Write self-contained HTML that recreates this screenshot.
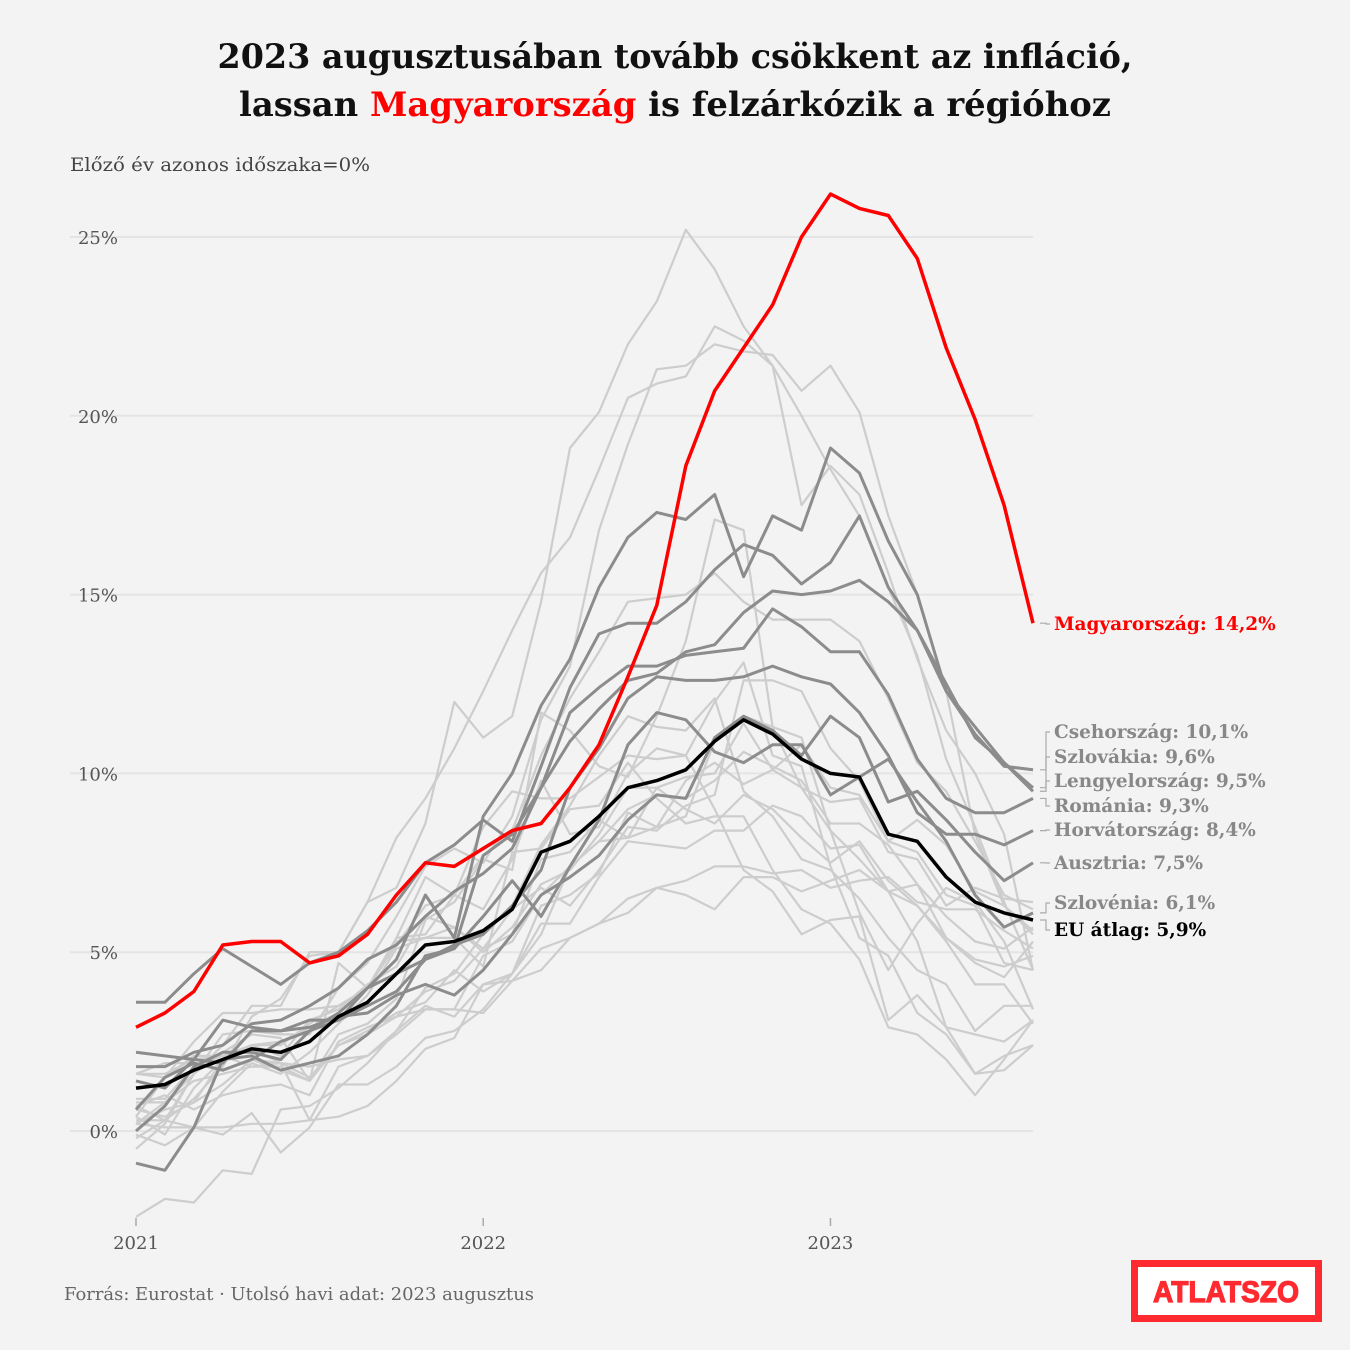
<!DOCTYPE html>
<html><head><meta charset="utf-8"><style>
html,body{margin:0;padding:0;background:#f3f3f3;}
svg{display:block;font-family:"DejaVu Serif","Liberation Serif",serif;}
</style></head><body>
<svg id="c" width="1350" height="1350" viewBox="0 0 1350 1350">
<rect width="1350" height="1350" fill="#f3f3f3"/>
<text x="675" y="68" text-anchor="middle" font-size="34" font-weight="bold" fill="#111" textLength="915" lengthAdjust="spacingAndGlyphs">2023 augusztusában tovább csökkent az infláció,</text>
<text x="675" y="116" text-anchor="middle" font-size="34" font-weight="bold" fill="#111" textLength="872" lengthAdjust="spacingAndGlyphs">lassan <tspan fill="#ff0000">Magyarország</tspan> is felzárkózik a régióhoz</text>
<text x="70" y="171" font-size="19" fill="#444" textLength="300" lengthAdjust="spacingAndGlyphs">Előző év azonos időszaka=0%</text>
<g id="grid"></g><g id="lines"></g><g id="labels"></g>
<text x="64" y="1300" font-size="18" fill="#666" textLength="470" lengthAdjust="spacingAndGlyphs">Forrás: Eurostat · Utolsó havi adat: 2023 augusztus</text>
<g>
<rect x="1134.5" y="1263.5" width="184" height="55" fill="#ffffff" stroke="#ff2a30" stroke-width="7"/>
<text x="1226" y="1302" text-anchor="middle" font-family="'Liberation Sans',sans-serif" font-weight="900" font-size="30" fill="#ff2a30" stroke="#ff2a30" stroke-width="1.2" textLength="146" lengthAdjust="spacingAndGlyphs">ATLATSZO</text>
</g>
</svg>
<script>
const yTicks=[0,5,10,15,20,25];
const yearLabels=["2021","2022","2023"];
const hungary=[2.9,3.3,3.9,5.2,5.3,5.3,4.7,4.9,5.5,6.6,7.5,7.4,7.9,8.4,8.6,9.6,10.8,12.7,14.7,18.6,20.7,21.9,23.1,25.0,26.2,25.8,25.6,24.4,21.9,19.9,17.5,14.2];
const euAvg=[1.2,1.3,1.7,2.0,2.3,2.2,2.5,3.2,3.6,4.4,5.2,5.3,5.6,6.2,7.8,8.1,8.8,9.6,9.8,10.1,10.9,11.5,11.1,10.4,10.0,9.9,8.3,8.1,7.1,6.4,6.1,5.9];
const czech=[2.2,2.1,2.0,3.1,2.9,2.8,3.1,3.1,4.0,4.8,6.6,5.4,8.8,10.0,11.9,13.2,15.2,16.6,17.3,17.1,17.8,15.5,17.2,16.8,19.1,18.4,16.5,15.0,12.3,11.1,10.2,10.1];
const slovakia=[0.6,1.5,1.9,1.7,2.0,2.5,2.8,3.3,4.0,4.4,4.8,5.1,7.7,8.3,9.6,10.9,11.8,12.6,12.8,13.4,13.6,14.5,15.1,15.0,15.1,15.4,14.8,14.0,12.3,11.3,10.3,9.6];
const poland=[3.6,3.6,4.4,5.1,4.6,4.1,4.7,5.0,5.6,6.4,7.5,8.0,8.7,8.1,10.2,12.4,13.9,14.2,14.2,14.8,15.7,16.4,16.1,15.3,15.9,17.2,15.2,14.0,12.5,11.0,10.3,9.5];
const romania=[1.8,1.8,2.2,2.4,3.0,3.1,3.5,4.0,4.8,5.2,6.0,6.7,7.2,7.9,9.6,11.7,12.4,13.0,13.0,13.3,13.4,13.5,14.6,14.1,13.4,13.4,12.2,10.4,9.3,8.9,8.9,9.3];
const croatia=[0.0,0.7,1.8,2.2,2.2,2.0,2.8,3.1,3.5,3.9,4.8,5.2,5.5,6.3,7.3,9.6,10.7,12.1,12.7,12.6,12.6,12.7,13.0,12.7,12.5,11.7,10.5,8.9,8.3,8.3,8.0,8.4];
const austria=[1.4,1.2,2.0,1.9,2.8,2.8,2.9,3.2,3.3,3.8,4.1,3.8,4.5,5.5,6.6,7.1,7.7,8.7,9.4,9.3,11.0,11.6,11.2,10.5,11.6,11.0,9.2,9.5,8.7,7.8,7.0,7.5];
const slovenia=[-0.9,-1.1,0.1,2.0,2.1,1.7,1.9,2.1,2.7,3.5,4.9,5.1,6.0,7.0,6.0,7.4,8.7,10.8,11.7,11.5,10.6,10.3,10.8,10.8,9.4,9.9,10.4,9.2,8.1,6.6,5.7,6.1];
const estonia=[-0.2,0.3,0.9,1.8,3.2,3.7,4.9,5.0,6.4,6.8,8.6,12.0,11.0,11.6,14.8,19.1,20.1,22.0,23.2,25.2,24.1,22.5,21.4,17.5,18.6,17.8,15.6,13.2,11.2,10.0,8.3,4.5];
const lithuania=[0.2,0.8,1.6,2.4,3.5,3.5,5.0,5.0,6.4,8.2,9.3,10.7,12.3,14.0,15.6,16.6,18.5,20.5,20.9,21.1,22.5,22.1,21.4,20.0,18.5,17.2,15.2,13.3,10.4,8.5,6.4,4.5];
const latvia=[-0.5,0.2,1.6,2.7,2.8,2.7,2.7,4.0,4.7,6.0,7.4,7.9,7.5,8.8,11.5,13.0,16.8,19.2,21.3,21.4,22.0,21.8,21.7,20.7,21.4,20.1,17.2,15.0,12.3,8.3,6.3,5.6];
const greece=[-2.4,-1.9,-2.0,-1.1,-1.2,0.6,0.7,1.2,1.9,2.8,4.0,4.4,5.5,6.3,8.0,9.1,10.5,11.6,11.3,11.2,12.1,9.5,8.8,7.6,7.3,6.5,5.4,4.5,4.1,2.8,3.5,3.5];
const bulgaria=[0.2,0.6,0.8,2.0,2.4,2.4,3.0,3.5,4.0,5.2,6.3,6.6,7.7,8.4,10.5,12.1,13.4,14.8,14.9,15.0,15.6,14.8,14.3,14.3,14.3,13.7,12.1,10.3,9.5,8.1,6.6,6.2];
const belgium=[0.7,0.3,1.6,2.2,2.7,2.6,1.4,4.7,4.0,5.4,7.1,6.6,8.5,9.5,9.3,9.3,9.9,10.5,10.4,10.5,12.0,13.1,10.5,10.2,7.4,5.4,4.9,3.3,2.7,1.6,1.7,2.4];
const netherlands=[1.6,1.9,1.9,1.7,2.0,1.7,1.4,2.7,3.0,3.7,5.9,6.4,7.6,7.3,11.7,11.2,10.2,9.9,11.6,13.7,17.1,16.8,11.3,11.0,8.4,6.1,4.5,5.8,6.8,6.4,5.3,3.4];
const germany=[1.6,1.6,2.0,2.1,2.4,2.1,3.1,3.4,4.1,4.6,6.0,5.7,5.1,5.5,7.6,7.8,8.7,8.2,8.5,8.8,10.9,11.6,11.3,9.6,9.2,9.3,7.8,7.6,6.3,6.8,6.5,6.4];
const france=[0.8,0.8,1.4,1.6,1.8,1.9,1.5,2.4,2.7,3.2,3.4,3.4,3.3,4.2,5.1,5.4,5.8,6.5,6.8,6.6,6.2,7.1,7.1,6.7,7.0,7.3,6.7,6.9,6.0,5.3,5.1,5.7];
const italy=[0.7,1.0,0.6,1.0,1.2,1.3,1.0,2.5,2.9,3.2,3.9,4.2,5.1,6.2,6.8,6.3,7.3,8.5,8.4,9.1,9.4,12.6,12.6,12.3,10.7,9.8,8.1,8.7,8.0,6.7,6.3,5.5];
const spain=[0.4,-0.1,1.2,2.0,2.4,2.5,2.9,3.3,4.0,5.4,5.5,6.6,6.2,7.6,9.8,8.3,8.5,10.0,10.7,10.5,9.0,7.3,6.7,5.5,5.9,6.0,3.1,3.8,2.9,1.6,2.1,2.4];
const portugal=[0.3,0.3,0.1,-0.1,0.5,-0.6,0.1,1.3,1.3,1.8,2.6,2.8,3.4,4.4,5.5,7.4,8.1,9.0,9.4,9.3,9.8,10.6,10.2,9.8,8.6,8.6,8.0,6.9,5.4,4.7,4.3,5.3];
const ireland=[-0.1,-0.4,0.1,1.1,1.9,1.6,2.2,3.0,3.8,5.1,5.4,5.7,5.0,5.7,6.9,7.3,8.3,9.6,9.6,9.0,8.6,9.4,9.0,8.2,7.5,8.1,7.0,6.3,5.4,4.8,4.6,4.9];
const finland=[0.9,0.9,1.8,2.1,2.3,1.9,1.8,2.0,2.1,2.8,3.5,3.2,4.1,4.4,5.8,5.8,7.1,8.1,8.0,7.9,8.4,8.4,9.1,8.8,7.9,8.0,6.7,6.3,5.3,4.1,4.1,3.0];
const malta=[0.2,0.1,0.1,0.1,0.2,0.2,0.3,0.4,0.7,1.4,2.3,2.6,4.1,4.2,4.5,5.4,5.8,6.1,6.8,7.0,7.4,7.4,7.2,7.3,6.8,7.0,7.1,6.4,6.2,6.2,5.6,5.1];
const luxembourg=[0.4,1.5,2.5,3.3,3.3,3.4,3.4,3.5,4.0,5.3,5.4,5.4,4.6,7.8,7.9,9.0,9.1,10.3,9.3,8.6,8.8,8.8,7.3,6.2,5.8,4.8,2.9,2.7,2.0,1.0,2.0,3.1];
const sweden=[1.6,1.5,2.1,2.1,1.8,1.8,1.4,2.4,2.8,3.3,3.6,4.5,3.9,4.4,6.3,6.6,7.2,8.9,8.5,9.8,10.3,9.7,10.1,10.8,9.6,9.4,8.1,7.8,6.6,6.3,4.7,4.5];
const denmark=[0.6,0.4,0.8,1.3,2.0,1.9,0.3,1.8,2.1,2.7,3.4,3.4,4.9,5.3,6.6,7.4,8.1,8.2,9.6,9.9,10.0,11.4,10.1,9.6,8.4,7.6,6.7,5.3,2.9,2.7,2.5,3.1];
const lightSeries=[estonia,lithuania,latvia,greece,bulgaria,belgium,netherlands,germany,france,italy,spain,portugal,ireland,finland,malta,luxembourg,sweden,denmark];
const darkSeries=[czech,slovakia,poland,romania,croatia,austria,slovenia];
const darkNames=["Csehország: 10,1%","Szlovákia: 9,6%","Lengyelország: 9,5%","Románia: 9,3%","Horvátország: 8,4%","Ausztria: 7,5%","Szlovénia: 6,1%"];

const NS="http://www.w3.org/2000/svg";
const x=i=>136+i*(1033-136)/31;
const y=v=>1131-v*(1131-237)/25;
function mk(t,a,p){const e=document.createElementNS(NS,t);for(const k in a)e.setAttribute(k,a[k]);p.appendChild(e);return e;}
const grid=document.getElementById('grid'),lines=document.getElementById('lines'),labels=document.getElementById('labels');
yTicks.forEach(t=>{
  const l=mk('line',{x1:70,x2:1033,y1:y(t),y2:y(t),stroke:'#e4e4e4','stroke-width':2},grid);
  
  
  const tx=mk('text',{x:118,y:y(t)+7,'text-anchor':'end','font-size':18,fill:'#555'},grid);
  tx.textContent=t+'%';
  
  
});
yearLabels.forEach((yr,k)=>{
  const xx=x(k*12);
  const tk=mk('line',{x1:xx,x2:xx,y1:1218,y2:1226,stroke:'#aaa','stroke-width':1.5},grid);
  
  
  const tx=mk('text',{x:xx,y:1249,'text-anchor':'middle','font-size':18,fill:'#555'},grid);
  tx.textContent=yr;
  
  
});
function path(arr,col,w,name){
  const p=mk('path',{d:arr.map((v,i)=>(i?'L':'M')+x(i).toFixed(1)+','+y(v).toFixed(1)).join(''),fill:'none',stroke:col,'stroke-width':w,'stroke-linejoin':'round'},lines);
  
  
}
lightSeries.forEach((s,i)=>path(s,'#cdcdcd',2.2,'light-series-line'));
darkSeries.forEach((s,i)=>path(s,'#8c8c8c',3,'highlight-series-line'));
path(euAvg,'#000',3.5,'eu-average-line');
path(hungary,'#ff0000',3.5,'hungary-line');
const labY=[732,757,781,806,830,863,903];
function label(txt,ly,col,endV,name,bold){
  const cy=y(endV);
  const c=mk('path',{d:`M1040,${cy} L1046,${cy} L1046,${ly-6} L1050,${ly-6}`,fill:'none',stroke:'#aaa','stroke-width':1.2},labels);
  
  
  const t=mk('text',{x:1054,y:ly,'font-size':18.5,fill:col,'font-weight':bold?'bold':'normal'},labels);
  t.textContent=txt;
  
  
}
label('Magyarország: 14,2%',630,'#ff0000',hungary[31],'hungary-label',true);
darkSeries.forEach((s,i)=>label(darkNames[i],labY[i]+6,'#888',s[31],'country-label',true));
label('EU átlag: 5,9%',936,'#000',euAvg[31],'eu-average-label',true);
</script>
</body></html>
